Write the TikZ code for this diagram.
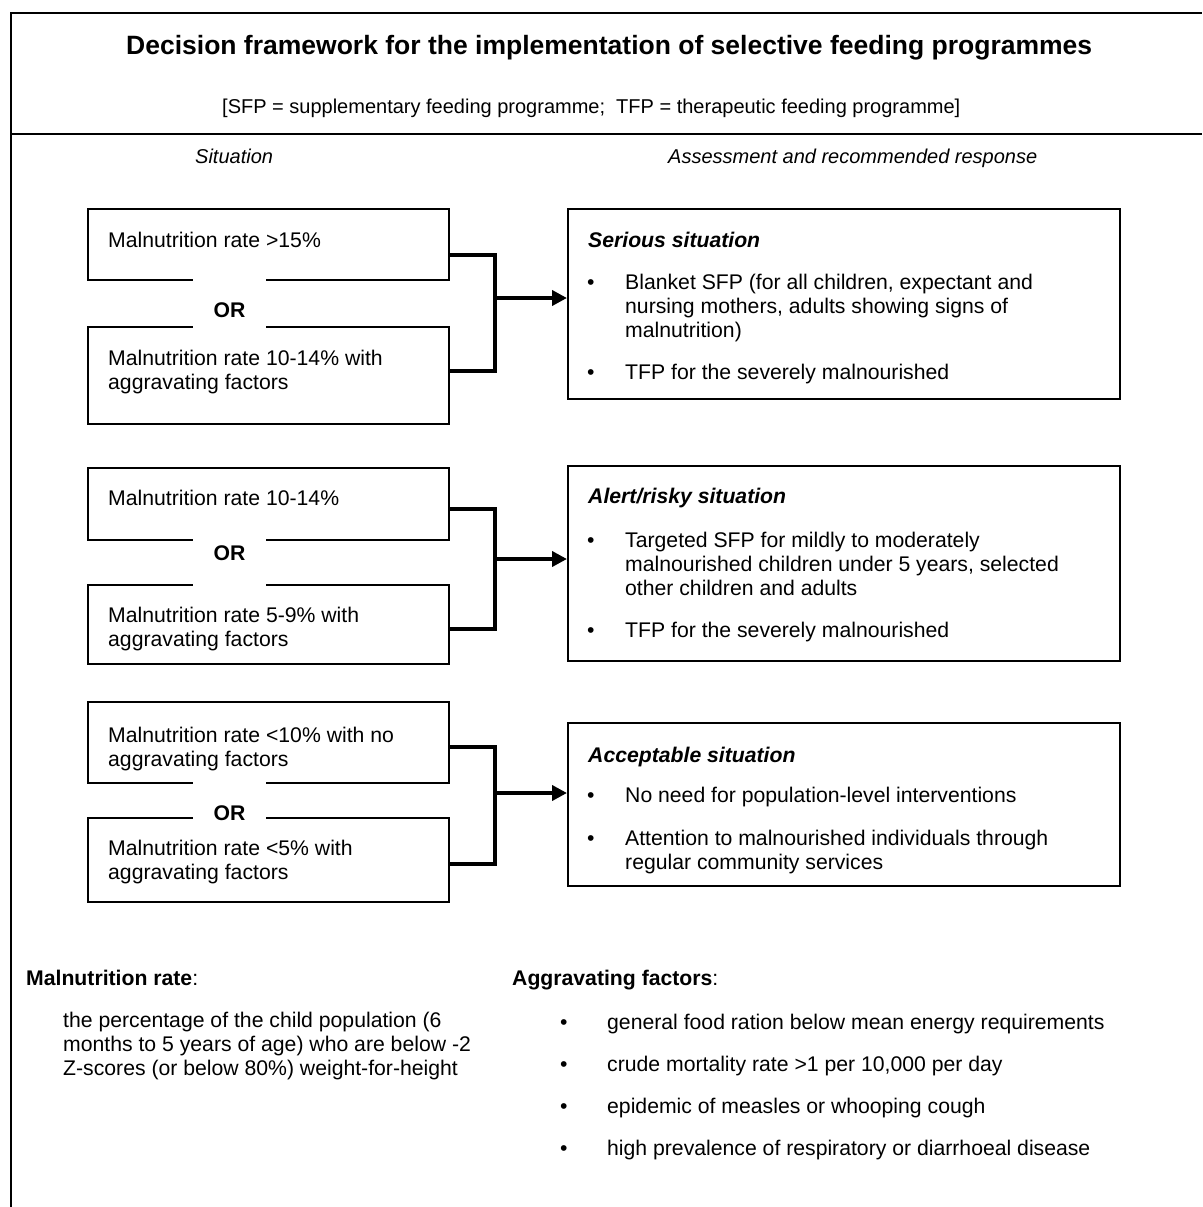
\documentclass[tikz,border=0pt]{standalone}
\usepackage{fontspec}
\setmainfont{Liberation Sans}
\usetikzlibrary{arrows.meta}
\begin{document}
\begin{tikzpicture}[x=1pt,y=-1pt,
  txt/.style={anchor=base west, inner sep=0pt, font=\fontsize{21.2}{24}\selectfont},
  stxt/.style={anchor=base west, inner sep=0pt, font=\fontsize{20}{24}\selectfont},
  hd/.style={txt, font=\fontsize{21.2}{24}\selectfont\bfseries\itshape},
  bhd/.style={txt, font=\fontsize{21.2}{24}\selectfont\bfseries},
  ital/.style={stxt, font=\fontsize{20}{24}\selectfont\itshape},
  ortxt/.style={anchor=base, inner sep=0pt, font=\fontsize{21.2}{24}\selectfont\bfseries},
  gap/.style={fill=white, inner sep=0pt, minimum width=73pt},
  box/.style={draw, line width=2pt, anchor=north west, inner sep=0pt},
  frame/.style={line width=2pt},
  link/.style={line width=4pt},
  tip/.style={-{Triangle[length=15pt,width=15pt]}}
]
\useasboundingbox (0,0) rectangle (1202,1207);

% outer frame
\coordinate (fbl) at (11,1207);
\coordinate (ftl) at (11,13);
\coordinate (ftr) at (1202,13);
\coordinate (fml) at (11,134);
\coordinate (fmr) at (1202,134);
\draw[frame] (fbl) -- (ftl) -- (ftr);
\draw[frame] (fml) -- (fmr);

% header
\node[anchor=base west, inner sep=0pt, font=\fontsize{26.5}{30}\selectfont\bfseries] (title) at (126,55)
  {Decision framework for the implementation of selective feeding programmes};
\node[stxt] (sub) at (222,113)
  {[SFP = supplementary feeding programme;\ \ TFP = therapeutic feeding programme]};
\node[ital] (sit) at (195,163) {Situation};
\node[ital] (ass) at (668,163) {Assessment and recommended response};

% ---------- group 1
\node[box, minimum width=361pt, minimum height=71pt] (s1) at (87,208) {};
\node[box, minimum width=361pt, minimum height=97pt] (s2) at (87,326) {};
\node[gap, minimum height=54pt] (g1) at (229.5,302.5) {};
\node[ortxt] (or1) at (229.5,317) {OR};
\node[txt] (s1a) at (108,247) {Malnutrition rate >15\%};
\node[txt] (s2a) at (108,365) {Malnutrition rate 10-14\% with};
\node[txt] (s2b) at (108,389) {aggravating factors};

\node[box, minimum width=552pt, minimum height=190pt] (r1) at (567,208) {};
\node[hd] (r1h) at (588,247) {Serious situation};
\node[txt] (r1d1) at (587,289) {•};
\node[txt] (r1a) at (625,289) {Blanket SFP (for all children, expectant and};
\node[txt] (r1b) at (625,313) {nursing mothers, adults showing signs of};
\node[txt] (r1c) at (625,337) {malnutrition)};
\node[txt] (r1d2) at (587,379) {•};
\node[txt] (r1e) at (625,379) {TFP for the severely malnourished};

\coordinate (j1) at (495,298);
\draw[link] ([yshift=-10pt]s1.east) -| (j1) |- ([yshift=4.5pt]s2.east);
\draw[link, tip] (j1) -- (j1 -| r1.west);

% ---------- group 2
\node[box, minimum width=361pt, minimum height=72pt] (s3) at (87,467) {};
\node[box, minimum width=361pt, minimum height=79pt] (s4) at (87,584) {};
\node[gap, minimum height=50pt] (g2) at (229.5,561.5) {};
\node[ortxt] (or2) at (229.5,560) {OR};
\node[txt] (s3a) at (108,505) {Malnutrition rate 10-14\%};
\node[txt] (s4a) at (108,622) {Malnutrition rate 5-9\% with};
\node[txt] (s4b) at (108,646) {aggravating factors};

\node[box, minimum width=552pt, minimum height=195pt] (r2) at (567,465) {};
\node[hd] (r2h) at (588,503) {Alert/risky situation};
\node[txt] (r2d1) at (587,547) {•};
\node[txt] (r2a) at (625,547) {Targeted SFP for mildly to moderately};
\node[txt] (r2b) at (625,571) {malnourished children under 5 years, selected};
\node[txt] (r2c) at (625,595) {other children and adults};
\node[txt] (r2d2) at (587,637) {•};
\node[txt] (r2e) at (625,637) {TFP for the severely malnourished};

\coordinate (j2) at (495,559);
\draw[link] ([yshift=-5pt]s3.east) -| (j2) |- ([yshift=-4.5pt]s4.east);
\draw[link, tip] (j2) -- (j2 -| r2.west);

% ---------- group 3
\node[box, minimum width=361pt, minimum height=81pt] (s5) at (87,701) {};
\node[box, minimum width=361pt, minimum height=84pt] (s6) at (87,817) {};
\node[gap, minimum height=40pt] (g3) at (229.5,799.5) {};
\node[ortxt] (or3) at (229.5,820) {OR};
\node[txt] (s5a) at (108,742) {Malnutrition rate <10\% with no};
\node[txt] (s5b) at (108,766) {aggravating factors};
\node[txt] (s6a) at (108,855) {Malnutrition rate <5\% with};
\node[txt] (s6b) at (108,879) {aggravating factors};

\node[box, minimum width=552pt, minimum height=163pt] (r3) at (567,722) {};
\node[hd] (r3h) at (588,762) {Acceptable situation};
\node[txt] (r3d1) at (587,802) {•};
\node[txt] (r3a) at (625,802) {No need for population-level interventions};
\node[txt] (r3d2) at (587,845) {•};
\node[txt] (r3b) at (625,845) {Attention to malnourished individuals through};
\node[txt] (r3c) at (625,869) {regular community services};

\coordinate (j3) at (495,793);
\draw[link] ([yshift=-4.5pt]s5.east) -| (j3) |- ([yshift=-4pt]s6.east);
\draw[link, tip] (j3) -- (j3 -| r3.west);

% ---------- definitions
\node[bhd] (mrh) at (26,985) {Malnutrition rate\textmd{:}};
\node[txt] (mr1) at (63,1027) {the percentage of the child population (6};
\node[txt] (mr2) at (63,1051) {months to 5 years of age) who are below -2};
\node[txt] (mr3) at (63,1075) {Z-scores (or below 80\%) weight-for-height};

\node[bhd] (afh) at (512,985) {Aggravating factors\textmd{:}};
\node[txt] (afd1) at (560,1029) {•};
\node[txt] (af1) at (607,1029) {general food ration below mean energy requirements};
\node[txt] (afd2) at (560,1071) {•};
\node[txt] (af2) at (607,1071) {crude mortality rate >1 per 10,000 per day};
\node[txt] (afd3) at (560,1113) {•};
\node[txt] (af3) at (607,1113) {epidemic of measles or whooping cough};
\node[txt] (afd4) at (560,1155) {•};
\node[txt] (af4) at (607,1155) {high prevalence of respiratory or diarrhoeal disease};
\end{tikzpicture}
\end{document}
